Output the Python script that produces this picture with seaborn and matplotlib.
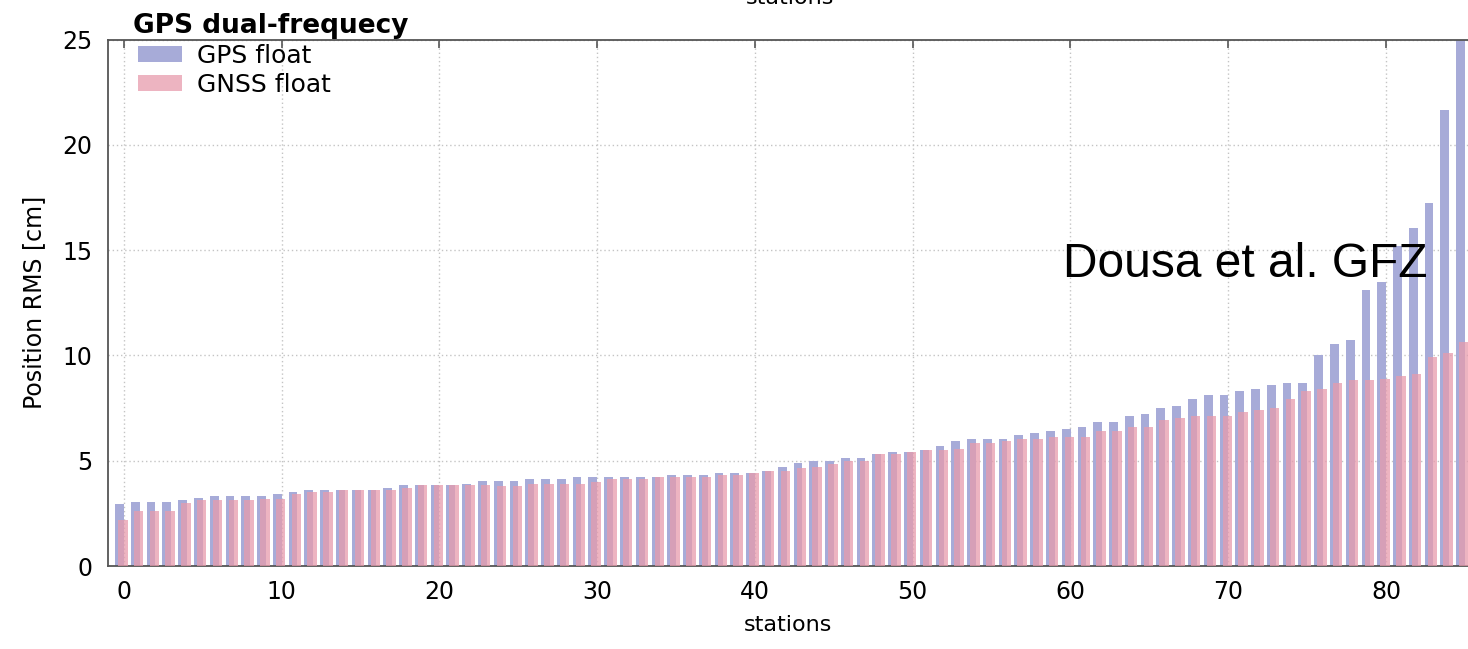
import numpy as np
import pandas as pd
import matplotlib
matplotlib.use("Agg")
import matplotlib.pyplot as plt
from matplotlib.patches import Patch
import seaborn as sns

# Position RMS per station [cm], stations sorted by GPS-only result
stations = list(range(86))
gps_float = [2.93, 3.02, 3.02, 3.02, 3.13, 3.22, 3.32, 3.32, 3.32, 3.32,
             3.42, 3.53, 3.62, 3.62, 3.62, 3.62, 3.62, 3.72, 3.83, 3.83,
             3.83, 3.83, 3.91, 4.03, 4.03, 4.03, 4.11, 4.11, 4.11, 4.23,
             4.23, 4.23, 4.23, 4.23, 4.23, 4.30, 4.30, 4.30, 4.42, 4.42,
             4.42, 4.53, 4.72, 4.90, 5.00, 5.00, 5.11, 5.11, 5.32, 5.41,
             5.41, 5.51, 5.71, 5.94, 6.02, 6.02, 6.02, 6.22, 6.32, 6.43,
             6.52, 6.62, 6.82, 6.82, 7.11, 7.22, 7.52, 7.61, 7.91, 8.12,
             8.12, 8.32, 8.40, 8.59, 8.70, 8.70, 10.02, 10.52, 10.71, 13.10,
             13.50, 15.20, 16.03, 17.25, 21.65, 27.00]
gnss_float = [2.20, 2.63, 2.63, 2.63, 3.01, 3.15, 3.13, 3.13, 3.13, 3.20,
              3.20, 3.42, 3.53, 3.53, 3.62, 3.62, 3.62, 3.62, 3.72, 3.83,
              3.83, 3.83, 3.83, 3.83, 3.80, 3.80, 3.91, 3.91, 3.91, 3.91,
              4.00, 4.11, 4.11, 4.11, 4.23, 4.23, 4.23, 4.23, 4.30, 4.30,
              4.42, 4.53, 4.53, 4.64, 4.72, 4.84, 5.00, 5.00, 5.32, 5.32,
              5.41, 5.51, 5.51, 5.54, 5.83, 5.83, 5.92, 6.02, 6.02, 6.13,
              6.13, 6.13, 6.43, 6.43, 6.62, 6.62, 6.92, 7.01, 7.11, 7.11,
              7.11, 7.30, 7.41, 7.52, 7.91, 8.31, 8.39, 8.70, 8.83, 8.83,
              8.89, 9.02, 9.12, 9.91, 10.10, 10.65]
series_labels = ["GPS float", "GNSS float"]
x_ticks = [0, 10, 20, 30, 40, 50, 60, 70, 80]
y_ticks = [0, 5, 10, 15, 20, 25]

df = pd.DataFrame({"station": stations, "gps": gps_float, "gnss": gnss_float})

sns.set_style("white")
plt.rcParams["font.family"] = ["DejaVu Sans"]
for key in ("text.color", "axes.labelcolor", "xtick.labelcolor", "ytick.labelcolor"):
    plt.rcParams[key] = "black"

W, H = 1468, 649
fig = plt.figure(figsize=(W / 100, H / 100), dpi=100)
ax = fig.add_axes([108 / W, 1 - 566 / H, 1 - 108 / W, (566 - 39.5) / H])

blue = "#a7abd8"
red = "#e79bad"
red_alpha = 0.75

# GPS bars sit on the left part of each slot, GNSS bars overlap them shifted right
sns.barplot(x=df["station"] - 0.27, y=df["gps"], native_scale=True, width=0.56,
            color=blue, saturation=1, errorbar=None, linewidth=0, ax=ax, zorder=2)
sns.barplot(x=df["station"] - 0.06, y=df["gnss"], native_scale=True, width=0.6,
            color=red, saturation=1, errorbar=None, linewidth=0, alpha=red_alpha,
            ax=ax, zorder=3)

ax.set_xlim(-1.0, 85.2)
ax.set_ylim(0, 25)
ax.set_xticks(x_ticks)
ax.set_xticklabels([str(t) for t in x_ticks])
ax.set_yticks(y_ticks)
ax.set_yticklabels([str(t) for t in y_ticks])

ax.set_axisbelow(True)
ax.grid(True, color="#c4c4c4", linestyle=(0, (1, 2)), linewidth=1.0)

for side in ("left", "bottom", "top"):
    ax.spines[side].set_color("#555555")
    ax.spines[side].set_linewidth(1.3)
ax.spines["right"].set_visible(False)

ax.tick_params(axis="both", direction="in", length=6, width=1.2, color="#555555",
               labelsize=17, labelcolor="black", top=True, right=False)
ax.tick_params(axis="x", pad=10)
ax.tick_params(axis="y", pad=11)

ax.set_xlabel("stations", fontsize=16, labelpad=8)
ax.set_ylabel("Position RMS [cm]", fontsize=17, labelpad=12)

handles = [Patch(facecolor=blue, edgecolor="none"),
           Patch(facecolor=red, alpha=red_alpha, edgecolor="none")]
ax.legend(handles, series_labels, loc="upper left", frameon=False,
          bbox_to_anchor=(138 / W, 1 - 44 / H), bbox_transform=fig.transFigure,
          borderaxespad=0, borderpad=0, fontsize=18, handlelength=1.75,
          handleheight=0.6, handletextpad=0.6, labelspacing=0.2)

fig.text(133 / W, 1 - 33 / H, "GPS dual-frequecy", fontsize=19, fontweight="bold",
         va="baseline", ha="left")
fig.text(790 / W, 1 - 4 / H, "stations", fontsize=16, va="baseline", ha="center")
fig.text(1063 / W, 1 - 277 / H, "Dousa et al. GFZ", fontsize=34.5,
         family=["Liberation Sans", "DejaVu Sans"], va="baseline", ha="left",
         color="black", zorder=10)

fig.savefig("out.png", dpi=100, facecolor="white")
